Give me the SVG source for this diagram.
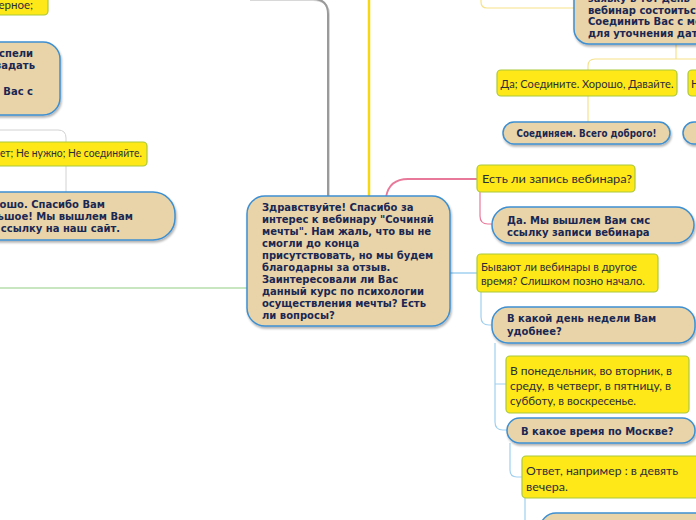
<svg xmlns="http://www.w3.org/2000/svg" width="696" height="520" viewBox="0 0 696 520">
<defs>
<filter id="sh" x="-10%" y="-10%" width="130%" height="140%">
<feDropShadow dx="1" dy="2" stdDeviation="1" flood-color="#000" flood-opacity="0.3"/>
</filter>
</defs>
<style>
.tan{fill:#E8D4A8;stroke:#3D8FD1;stroke-width:1.5;filter:url(#sh)}
.yel{fill:#FFE817;stroke:#A9C93C;stroke-width:1.2}
.bt{font-family:"DejaVu Sans",Verdana,sans-serif;font-weight:bold;font-size:10px;fill:#1A2753}
.yt{font-family:Lato,"Open Sans",sans-serif;font-size:11.5px;fill:#2D2D3A}
.c{fill:none}
</style>
<rect width="696" height="520" fill="#fff"/>
<g id="connectors">
<path class="c" d="M250,0 H313 Q329,0 329,15 V197" stroke="#d8d8d8" stroke-width="2"/>
<path class="c" d="M250,-1 H313 Q328,-1 328,14 V196" stroke="#9a9a9a" stroke-width="2"/>
<path class="c" d="M369,0 V196" stroke="#F6D712" stroke-width="2.5"/>
<path class="c" d="M0,130 H58 Q66,130 66,138 V192" stroke="#d2d2d2" stroke-width="1"/>
<path class="c" d="M0,288 H247" stroke="#C8E6C0" stroke-width="2"/>
<path class="c" d="M481,0 V2 Q481,8 487,8 H574" stroke="#F5E28A" stroke-width="1.2"/>
<path class="c" d="M676,44 V59 M696,59 H595 Q588,59 588,66 V70 M588,96 V122" stroke="#F5E28A" stroke-width="1.2"/>
<path class="c" d="M386,197 C388,186 394,179 408,179 H477" stroke="#E9799B" stroke-width="1.8"/>
<path class="c" d="M480,192 V216 Q480,224 488,224 H492" stroke="#E9799B" stroke-width="1.2"/>
<path class="c" d="M450,273 H477" stroke="#9FD0F0" stroke-width="1.5"/>
<path class="c" d="M481,292 V317 Q481,325 489,325 H492" stroke="#9FD0F0" stroke-width="1.2"/>
<path class="c" d="M495,343 V422 Q495,430 503,430 H507 M495,384 H506" stroke="#9FD0F0" stroke-width="1.2"/>
<path class="c" d="M510,443 V470 Q510,477 517,477 H522" stroke="#9FD0F0" stroke-width="1.2"/>
<path class="c" d="M525,498 V520" stroke="#9FD0F0" stroke-width="1.2"/>
</g>
<g id="n-top-left-yellow">
<rect class="yel" x="-120" y="-20" width="168" height="35" rx="4"/>
<text class="yt" x="33" y="8.5" font-size="10.5" text-anchor="end">ерное;</text>
</g>
<g id="n-left-tan">
<rect class="tan" x="-150" y="42" width="210" height="73" rx="17"/>
<text class="bt" x="33" y="56.5" text-anchor="end">спели</text>
<text class="bt" x="35" y="69" text-anchor="end">задать</text>
<text class="bt" x="33" y="94.5" text-anchor="end">Вас с</text>
</g>
<g id="n-net">
<rect class="yel" x="-120" y="142" width="267" height="24" rx="4"/>
<text class="yt" x="0" y="157" font-size="10" textLength="142" lengthAdjust="spacingAndGlyphs">ет; Не нужно; Не соединяйте.</text>
</g>
<g id="n-thanks">
<rect class="tan" x="-150" y="192" width="325" height="48" rx="22"/>
<text class="bt" x="105" y="207.5" text-anchor="end">ошо. Спасибо Вам</text>
<text class="bt" x="133" y="219.5" text-anchor="end">ьшое! Мы вышлем Вам</text>
<text class="bt" x="120" y="231.5" text-anchor="end">ссылку на наш сайт.</text>
</g>
<g id="n-center">
<rect class="tan" x="247" y="196" width="203" height="130" rx="18"/>
<text class="bt" x="262" y="210.5">Здравствуйте! Спасибо за</text>
<text class="bt" x="262" y="222.5">интерес к вебинару "Сочиняй</text>
<text class="bt" x="262" y="234.5">мечты". Нам жаль, что вы не</text>
<text class="bt" x="262" y="246.5">смогли до конца</text>
<text class="bt" x="262" y="258.5">присутствовать, но мы будем</text>
<text class="bt" x="262" y="270.5">благодарны за отзыв.</text>
<text class="bt" x="262" y="282.5">Заинтересовали ли Вас</text>
<text class="bt" x="262" y="294.5">данный курс по психологии</text>
<text class="bt" x="262" y="306.5">осуществления мечты? Есть</text>
<text class="bt" x="262" y="318.5">ли вопросы?</text>
</g>
<g id="n-top-right-tan">
<rect class="tan" x="574" y="-20" width="160" height="64" rx="15"/>
<text class="bt" x="588" y="1.8">заявку в тот день</text>
<text class="bt" x="588" y="13.5">вебинар состоиться.</text>
<text class="bt" x="588" y="25.2">Соединить Вас с менеджером</text>
<text class="bt" x="588" y="36.9">для уточнения даты</text>
</g>
<g id="n-da">
<rect class="yel" x="497" y="70" width="180" height="26" rx="4"/>
<text class="yt" x="500.5" y="87.5" textLength="173" lengthAdjust="spacingAndGlyphs">Да; Соедините. Хорошо, Давайте.</text>
</g>
<g id="n-net2">
<rect class="yel" x="688" y="70" width="60" height="26" rx="4"/>
<text class="yt" x="691" y="87.5">Н</text>
</g>
<g id="n-soed">
<rect class="tan" x="503" y="122" width="167" height="22" rx="11"/>
<text class="bt" x="516.5" y="137" font-size="7.8" textLength="140" lengthAdjust="spacingAndGlyphs">Соединяем. Всего доброго!</text>
</g>
<g id="n-soed2">
<rect class="tan" x="683" y="122" width="60" height="22" rx="11"/>
</g>
<g id="n-zapis">
<rect class="yel" x="477" y="165" width="158" height="27" rx="4"/>
<text class="yt" x="482" y="182.5" font-size="12.8" textLength="150" lengthAdjust="spacingAndGlyphs">Есть ли запись вебинара?</text>
</g>
<g id="n-zapis-ans">
<rect class="tan" x="492" y="207" width="202" height="36" rx="18"/>
<text class="bt" x="507" y="223.5">Да. Мы вышлем Вам смс</text>
<text class="bt" x="507" y="235.5">ссылку записи вебинара</text>
</g>
<g id="n-drugoe">
<rect class="yel" x="477" y="254" width="181" height="38" rx="4"/>
<text class="yt" x="481" y="271" textLength="156" lengthAdjust="spacingAndGlyphs">Бывают ли вебинары в другое</text>
<text class="yt" x="481" y="284.5" textLength="164" lengthAdjust="spacingAndGlyphs">время? Слишком позно начало.</text>
</g>
<g id="n-den">
<rect class="tan" x="492" y="307" width="203" height="36" rx="16"/>
<text class="bt" x="507" y="321.5">В какой день недели Вам</text>
<text class="bt" x="507" y="335">удобнее?</text>
</g>
<g id="n-dni">
<rect class="yel" x="506" y="356" width="183" height="57" rx="4"/>
<text class="yt" x="510" y="375" textLength="162" lengthAdjust="spacingAndGlyphs">В понедельник, во вторник, в</text>
<text class="yt" x="510" y="390" textLength="161" lengthAdjust="spacingAndGlyphs">среду, в четверг, в пятницу, в</text>
<text class="yt" x="510" y="404.5" textLength="126" lengthAdjust="spacingAndGlyphs">субботу, в воскресенье.</text>
</g>
<g id="n-vremya">
<rect class="tan" x="507" y="418" width="188" height="25" rx="12.5"/>
<text class="bt" x="521" y="434.5">В какое время по Москве?</text>
</g>
<g id="n-otvet">
<rect class="yel" x="522" y="456" width="200" height="42" rx="4"/>
<text class="yt" x="526" y="474.5" font-size="12.8" textLength="152" lengthAdjust="spacingAndGlyphs">Ответ, например : в девять</text>
<text class="yt" x="526" y="490.5" font-size="12.8" textLength="42" lengthAdjust="spacingAndGlyphs">вечера.</text>
</g>
<g id="n-bottom-tan">
<rect class="tan" x="540" y="513" width="200" height="40" rx="16"/>
</g>
</svg>
